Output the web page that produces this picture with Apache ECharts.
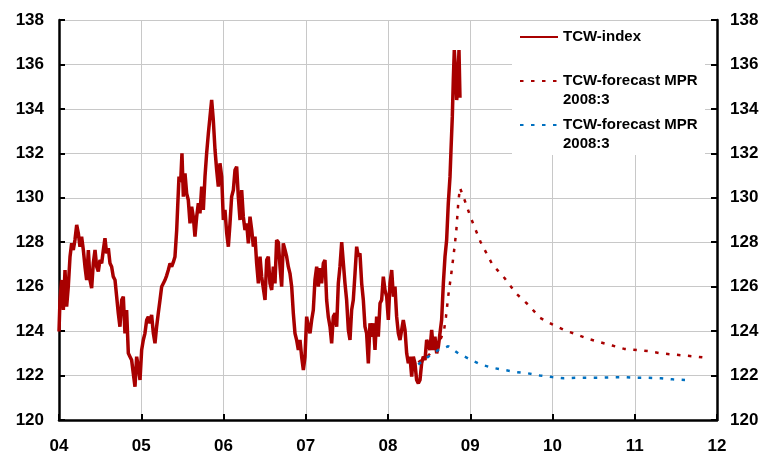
<!DOCTYPE html>
<html>
<head>
<meta charset="utf-8">
<title>TCW-index</title>
<script src="https://cdn.jsdelivr.net/npm/echarts@6/dist/echarts.min.js"></script>
<style>
  html, body { margin: 0; padding: 0; background: #fff; }
  #chart { width: 765px; height: 456px; }
</style>
</head>
<body>
<div id="chart"></div>
<script>
// x values are years after the start of 2004
const xTickLabels = ['04', '05', '06', '07', '08', '09', '10', '11', '12'];

const tcwTime = [
  0.000, 0.012, 0.032, 0.053, 0.073, 0.093, 0.113, 0.134, 0.154, 0.174,
  0.194, 0.215, 0.235, 0.255, 0.275, 0.296, 0.316, 0.336, 0.357, 0.377,
  0.397, 0.417, 0.438, 0.458, 0.478, 0.498, 0.519, 0.539, 0.559, 0.579,
  0.600, 0.620, 0.640, 0.660, 0.681, 0.701, 0.721, 0.741, 0.762, 0.782,
  0.802, 0.822, 0.843, 0.863, 0.883, 0.903, 0.924, 0.944, 0.964, 0.985,
  1.005, 1.025, 1.045, 1.066, 1.086, 1.106, 1.126, 1.147, 1.167, 1.187,
  1.207, 1.228, 1.248, 1.268, 1.289, 1.309, 1.329, 1.350, 1.370, 1.390,
  1.410, 1.431, 1.443, 1.459, 1.479, 1.495, 1.512, 1.532, 1.552, 1.572,
  1.593, 1.613, 1.633, 1.653, 1.674, 1.694, 1.714, 1.735, 1.755, 1.775,
  1.795, 1.816, 1.836, 1.856, 1.876, 1.897, 1.917, 1.937, 1.957, 1.978,
  1.998, 2.018, 2.039, 2.059, 2.079, 2.099, 2.120, 2.140, 2.160, 2.180,
  2.201, 2.221, 2.241, 2.261, 2.282, 2.302, 2.322, 2.343, 2.363, 2.383,
  2.403, 2.424, 2.444, 2.464, 2.484, 2.505, 2.525, 2.545, 2.565, 2.586,
  2.606, 2.626, 2.646, 2.667, 2.687, 2.707, 2.727, 2.748, 2.768, 2.788,
  2.808, 2.829, 2.849, 2.869, 2.889, 2.910, 2.930, 2.950, 2.971, 2.991,
  3.011, 3.031, 3.052, 3.072, 3.092, 3.112, 3.133, 3.153, 3.173, 3.193,
  3.214, 3.234, 3.254, 3.274, 3.295, 3.315, 3.335, 3.356, 3.376, 3.396,
  3.416, 3.437, 3.457, 3.477, 3.497, 3.518, 3.538, 3.558, 3.578, 3.599,
  3.619, 3.639, 3.659, 3.680, 3.700, 3.720, 3.740, 3.761, 3.781, 3.801,
  3.822, 3.842, 3.862, 3.882, 3.903, 3.923, 3.943, 3.963, 3.984, 4.004,
  4.024, 4.045, 4.065, 4.085, 4.105, 4.126, 4.146, 4.166, 4.186, 4.207,
  4.227, 4.247, 4.267, 4.288, 4.308, 4.328, 4.348, 4.369, 4.389, 4.409,
  4.429, 4.450, 4.470, 4.490, 4.510, 4.531, 4.551, 4.571, 4.592, 4.612,
  4.632, 4.652, 4.673, 4.693, 4.713, 4.733, 4.754, 4.766, 4.782, 4.794,
  4.806, 4.823, 4.835, 4.847, 4.863, 4.875
];
const tcwValues = [
  123.98, 125.4, 126.3, 124.95, 126.75, 125.1, 126.0, 127.35, 127.95, 127.65,
  128.1, 128.78, 128.4, 127.8, 128.25, 127.65, 126.9, 126.3, 127.65, 126.3,
  125.93, 127.05, 127.65, 126.9, 126.68, 127.2, 127.05, 127.65, 128.18, 127.5,
  127.73, 127.05, 126.9, 126.45, 126.3, 125.55, 124.8, 124.2, 125.4, 125.55,
  123.9, 124.95, 123.0, 122.85, 122.7, 122.1, 121.5, 122.85, 122.4, 121.8,
  123.15, 123.6, 123.9, 124.5, 124.65, 124.35, 124.73, 123.9, 123.45, 124.2,
  124.8, 125.4, 126.0, 126.0, 126.3, 126.5, 126.75, 127.05, 126.9, 127.1,
  127.35, 128.55, 129.6, 130.95, 130.7, 132.0, 130.05, 131.1, 130.2, 129.9,
  128.85, 129.6, 129.15, 128.25, 129.15, 129.75, 129.3, 130.5, 129.45, 130.95,
  132.0, 132.9, 133.65, 134.4, 133.5, 132.15, 131.25, 130.5, 131.55, 130.95,
  129.0, 129.45, 128.4, 127.8, 128.85, 130.05, 130.35, 131.25, 131.4, 130.05,
  129.0, 130.35, 129.15, 128.55, 128.85, 127.95, 129.15, 128.55, 127.8, 128.25,
  127.05, 126.15, 127.35, 126.45, 126.45, 125.4, 127.2, 127.35, 126.15, 125.85,
  126.9, 126.15, 128.1, 128.0, 126.9, 126.0, 127.95, 127.65, 127.35, 126.9,
  126.6, 126.0, 124.8, 123.9, 123.6, 123.15, 123.6, 122.85, 122.25, 122.85,
  124.65, 124.2, 123.9, 124.5, 124.95, 126.3, 126.9, 126.0, 126.83, 126.15,
  127.05, 127.2, 125.4, 124.65, 124.2, 123.45, 124.65, 124.8, 124.2, 126.15,
  126.9, 128.0, 127.95, 126.15, 125.4, 124.05, 123.6, 124.95, 125.4, 126.6,
  127.8, 127.35, 127.5, 126.15, 125.4, 124.2, 123.9, 122.55, 124.35, 123.75,
  124.35, 123.15, 124.65, 123.75, 125.25, 125.4, 126.45, 125.85, 125.55, 124.5,
  126.15, 126.75, 125.55, 126.0, 124.65, 123.9, 123.6, 124.05, 124.5, 124.05,
  123.0, 122.55, 122.85, 121.95, 122.85, 122.55, 121.8, 121.65, 121.8, 122.55,
  122.85, 122.7, 123.6, 123.45, 123.15, 124.05, 123.15, 123.75, 123.0, 123.3,
  123.9, 124.5, 126.15, 127.35, 128.1, 129.75, 130.95, 132.15, 133.65, 135.3,
  136.65, 135.6, 134.4, 134.85, 136.65, 134.5
];

const redTime = [
  4.368, 4.490, 4.612, 4.680, 4.705, 4.733, 4.770, 4.800, 4.830, 4.855,
  4.875, 4.936, 4.997, 5.050, 5.127, 5.268, 5.414, 5.556, 5.702, 5.848,
  5.998, 6.140, 6.294, 6.435, 6.578, 6.727, 6.873, 7.024, 7.165, 7.319,
  7.461, 7.611, 7.750, 7.870
];
const redValues = [
  122.6, 122.9, 123.4, 124.0, 124.65, 125.6, 126.6, 127.5, 128.5, 129.8,
  130.45, 129.85, 129.2, 128.7, 128.0, 127.0, 126.4, 125.7, 125.2, 124.6,
  124.3, 124.05, 123.85, 123.65, 123.5, 123.35, 123.2, 123.15, 123.1, 123.0,
  122.95, 122.9, 122.85, 122.8
];

const blueTime = [
  4.368, 4.490, 4.612, 4.733, 4.855, 4.997, 5.127, 5.268, 5.414, 5.556,
  5.702, 5.848, 5.998, 6.140, 6.294, 6.435, 6.578, 6.727, 6.873, 7.024,
  7.165, 7.319, 7.461, 7.611
];
const blueValues = [
  122.5, 122.85, 123.15, 123.32, 123.0, 122.73, 122.5, 122.35, 122.25, 122.16,
  122.1, 122.0, 121.93, 121.88, 121.9, 121.9, 121.9, 121.92, 121.93, 121.9,
  121.9, 121.88, 121.83, 121.8
];

// both forecasts carry the same label in the original
const seriesNames = ['TCW-index', 'forecast-red', 'forecast-blue'];
const legendLabels = ['TCW-index', '\nTCW-forecast MPR\n2008:3', '\nTCW-forecast MPR\n2008:3'];

const pairs = (xs, ys) => xs.map((x, i) => [x, ys[i]]);

const FONT = "'Liberation Sans', Arial, sans-serif";
const RED = '#a80000';
const BLUE = '#0070c0';

const chart = echarts.init(document.getElementById('chart'));

const yAxisBase = {
  type: 'value',
  min: 120,
  max: 138,
  interval: 2,
  axisLine: { show: true, lineStyle: { color: '#000', width: 2.5 } },
  axisTick: { show: true, inside: true, length: 6, lineStyle: { color: '#000', width: 2 } },
  axisLabel: { color: '#000', fontFamily: FONT, fontWeight: 'bold', fontSize: 17 }
};

const legendText = { color: '#000', fontFamily: FONT, fontWeight: 'bold', fontSize: 15, lineHeight: 19 };

const makeLegend = (i, top) => ({
  data: [seriesNames[i]],
  orient: 'vertical',
  left: 519,
  top: top,
  padding: 0,
  itemWidth: 38,
  itemHeight: 14,
  itemStyle: { opacity: 0 },
  textStyle: legendText,
  formatter: () => legendLabels[i]
});

chart.setOption({
  animation: false,
  grid: { left: 59, right: 48, top: 20, bottom: 36 },
  xAxis: {
    type: 'value',
    min: 0,
    max: 8,
    interval: 1,
    axisLine: { lineStyle: { color: '#000', width: 2.5 } },
    axisTick: { inside: true, length: 6, lineStyle: { color: '#000', width: 2 } },
    axisLabel: {
      margin: 18,
      color: '#000',
      fontFamily: FONT,
      fontWeight: 'bold',
      fontSize: 17,
      formatter: v => xTickLabels[Math.round(v)]
    },
    splitLine: { show: true, lineStyle: { color: '#c8c8c8', width: 1 } }
  },
  yAxis: [
    Object.assign({}, yAxisBase, {
      position: 'left',
      axisLabel: Object.assign({}, yAxisBase.axisLabel, { margin: 15 }),
      splitLine: { show: true, lineStyle: { color: '#c8c8c8', width: 1 } }
    }),
    Object.assign({}, yAxisBase, {
      position: 'right',
      axisLabel: Object.assign({}, yAxisBase.axisLabel, { margin: 13 }),
      splitLine: { show: false }
    })
  ],
  graphic: [{
    type: 'rect',
    z: 3,
    shape: { x: 512, y: 21, width: 193, height: 134 },
    style: { fill: '#fff' }
  }],
  legend: [
    makeLegend(0, 27.5),
    makeLegend(1, 52.5),
    makeLegend(2, 96.5)
  ],
  series: [
    {
      name: seriesNames[0],
      type: 'line',
      data: pairs(tcwTime, tcwValues),
      symbol: 'none',
      lineStyle: { color: RED, width: 3.5 },
      itemStyle: { color: RED }
    },
    {
      name: seriesNames[1],
      type: 'line',
      data: pairs(redTime, redValues),
      symbol: 'none',
      lineStyle: { color: RED, width: 2.5, type: [3.5, 7.5] },
      itemStyle: { color: RED }
    },
    {
      name: seriesNames[2],
      type: 'line',
      data: pairs(blueTime, blueValues),
      symbol: 'none',
      lineStyle: { color: BLUE, width: 2.5, type: [3.5, 7.5] },
      itemStyle: { color: BLUE }
    }
  ]
});
</script>
</body>
</html>
